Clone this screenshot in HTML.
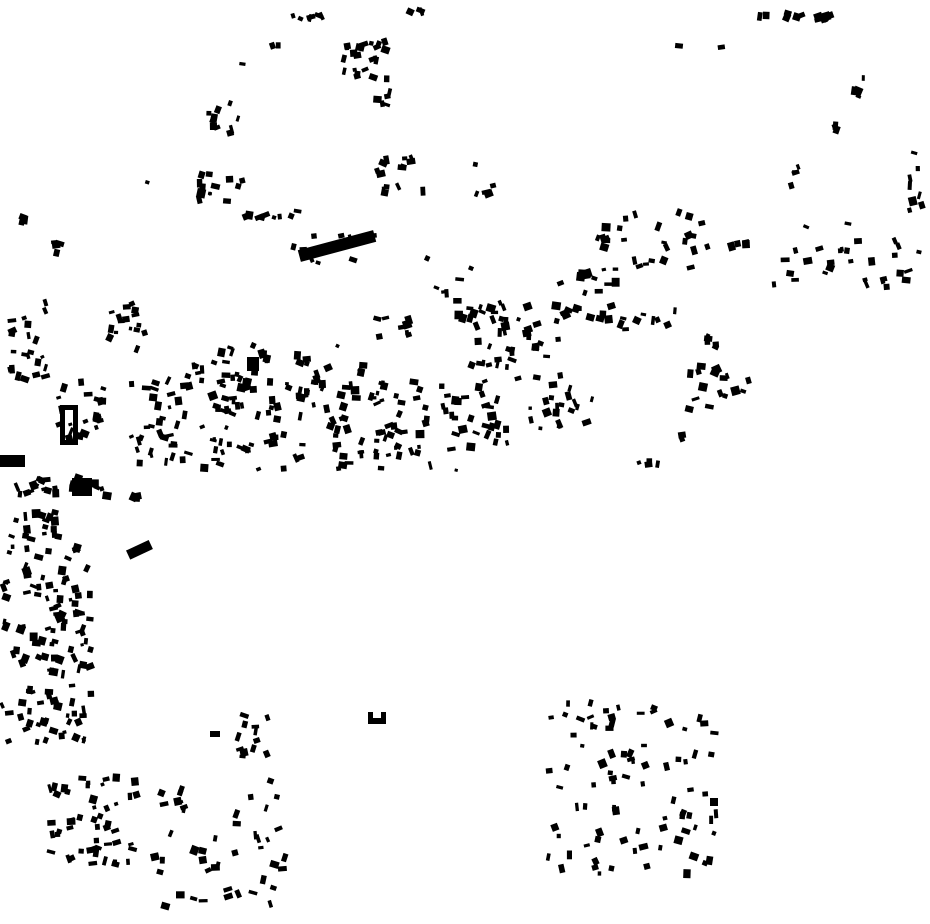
<!DOCTYPE html>
<html><head><meta charset="utf-8"><style>
html,body{margin:0;padding:0;background:#fff;}
svg{display:block;}
</style></head><body>
<svg id="m" width="930" height="924" viewBox="0 0 930 924" xmlns="http://www.w3.org/2000/svg">
<rect width="930" height="924" fill="#fff"/>
<g fill="#000">
<rect x="60" y="405" width="18" height="40"/><rect x="65" y="410" width="8" height="30" fill="#fff"/>
<rect x="0" y="455" width="25" height="12"/>
<rect x="72" y="478" width="20" height="18"/>
<rect x="127" y="545" width="25" height="10" transform="rotate(-25 139 550)"/>
<rect x="298" y="240" width="78" height="12" transform="rotate(-15 337 246)"/>
<rect x="368" y="712" width="18" height="12"/><rect x="373" y="712" width="8" height="6" fill="#fff"/>
<rect x="210" y="731" width="10" height="6"/>
<rect x="247" y="357" width="12" height="14"/>
<rect x="710" y="798" width="8" height="8"/>
</g>
<g id="g" fill="#000"></g>
</svg>
<script>
var s=12345;function r(){s=(s*16807)%2147483647;return s/2147483647;}
var C=[
[290,12,35,10,6],[403,9,22,4,3],[265,40,20,10,2],[240,62,5,5,1],[340,38,55,45,22],[365,88,28,22,5],
[205,97,38,43,10],[145,180,5,5,1],[195,170,60,35,14],[235,208,72,15,9],[290,225,90,40,10],[12,212,18,14,3],
[45,240,28,18,4],[372,152,62,45,14],[468,162,30,38,5],[735,9,100,14,12],[675,43,8,6,1],[718,44,6,6,1],
[850,68,15,40,4],[828,115,18,22,3],[788,152,14,40,4],[905,135,25,90,8],[595,208,118,68,28],[728,238,22,14,4],
[768,222,160,68,30],[418,253,12,8,1],[433,265,45,58,10],[553,268,70,62,22],[463,300,100,72,40],[373,313,40,28,8],
[598,303,85,30,9],[703,333,18,22,5],[683,362,70,55,16],[678,415,8,30,2],[603,455,60,20,4],[513,372,82,60,22],
[438,378,72,75,30],[448,468,16,6,1],[368,372,65,100,38],[293,342,75,130,50],[188,342,105,130,70],
[128,372,65,95,35],[55,376,55,70,22],[10,476,50,25,14],[68,474,48,28,8],[127,487,18,18,3],[8,508,55,35,18],
[0,540,95,205,110],[5,298,45,85,22],[103,298,45,55,16],[235,712,48,58,12],[45,773,95,95,50],[150,778,140,135,45],
[545,698,175,182,85],[40,608,55,15,4]
];
var g=document.getElementById('g'),h='';
C.forEach(function(c){for(var i=0;i<c[4];i++){var w=3+r()*6,hh=3+r()*6;var x=c[0]+r()*(c[2]-w),y=c[1]+r()*(c[3]-hh);
var a=(r()-0.5)*50;h+='<rect x="'+x.toFixed(1)+'" y="'+y.toFixed(1)+'" width="'+w.toFixed(1)+'" height="'+hh.toFixed(1)+'" transform="rotate('+a.toFixed(0)+' '+(x+w/2).toFixed(1)+' '+(y+hh/2).toFixed(1)+')"/>';}});
g.innerHTML=h;
</script>
</body></html>
